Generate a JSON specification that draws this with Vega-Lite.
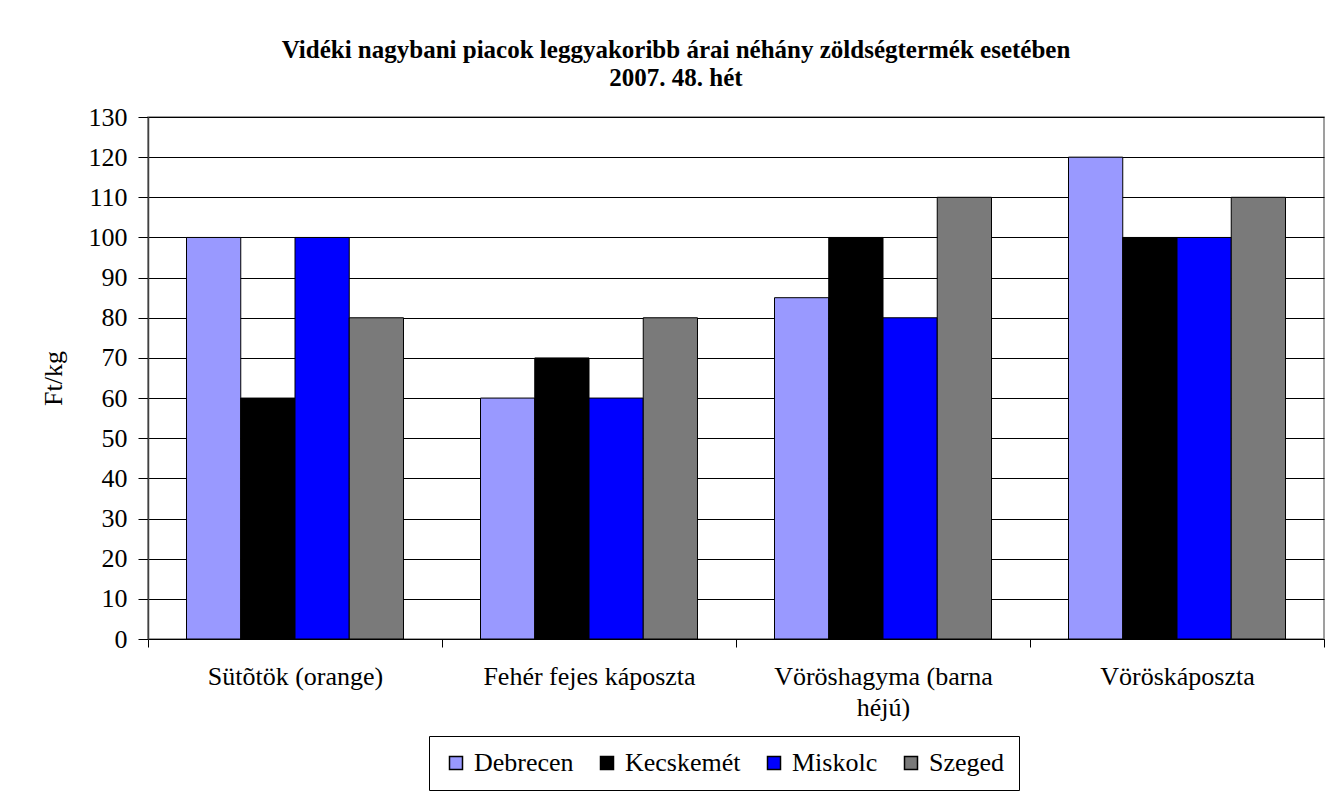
{
  "$schema": "https://vega.github.io/schema/vega-lite/v6.json",
  "width": 1176,
  "height": 522,
  "autosize": {"type": "none"},
  "padding": {"left": 148, "top": 117, "right": 11, "bottom": 166},
  "background": "white",
  "title": {
    "text": ["Vidéki nagybani piacok leggyakoribb árai néhány zöldségtermék esetében", "2007. 48. hét"],
    "font": "Liberation Serif",
    "fontSize": 25,
    "fontWeight": "bold",
    "color": "black",
    "anchor": "middle",
    "frame": "group",
    "dx": -60,
    "offset": 13,
    "lineHeight": 28
  },
  "data": {
    "values": [
      {"product": "Sütõtök (orange)", "city": "Debrecen", "price": 100},
      {"product": "Sütõtök (orange)", "city": "Kecskemét", "price": 60},
      {"product": "Sütõtök (orange)", "city": "Miskolc", "price": 100},
      {"product": "Sütõtök (orange)", "city": "Szeged", "price": 80},
      {"product": "Fehér fejes káposzta", "city": "Debrecen", "price": 60},
      {"product": "Fehér fejes káposzta", "city": "Kecskemét", "price": 70},
      {"product": "Fehér fejes káposzta", "city": "Miskolc", "price": 60},
      {"product": "Fehér fejes káposzta", "city": "Szeged", "price": 80},
      {"product": "Vöröshagyma (barna héjú)", "city": "Debrecen", "price": 85},
      {"product": "Vöröshagyma (barna héjú)", "city": "Kecskemét", "price": 100},
      {"product": "Vöröshagyma (barna héjú)", "city": "Miskolc", "price": 80},
      {"product": "Vöröshagyma (barna héjú)", "city": "Szeged", "price": 110},
      {"product": "Vöröskáposzta", "city": "Debrecen", "price": 120},
      {"product": "Vöröskáposzta", "city": "Kecskemét", "price": 100},
      {"product": "Vöröskáposzta", "city": "Miskolc", "price": 100},
      {"product": "Vöröskáposzta", "city": "Szeged", "price": 110}
    ]
  },
  "mark": {"type": "bar", "stroke": "black", "strokeWidth": 1},
  "encoding": {
    "x": {
      "field": "product",
      "type": "nominal",
      "sort": null,
      "scale": {"paddingInner": 0, "paddingOuter": 0},
      "axis": {
        "title": null,
        "labelAngle": 0,
        "labelFont": "Liberation Serif",
        "labelFontSize": 26,
        "labelColor": "black",
        "labelLimit": 400,
        "labelOverlap": false,
        "labelPadding": 16,
        "labelBaseline": "top",
        "labelLineHeight": 31,
        "labelExpr": "datum.label == 'Vöröshagyma (barna héjú)' ? ['Vöröshagyma (barna', 'héjú)'] : datum.label",
        "tickBand": "extent",
        "tickSize": 8,
        "tickColor": "black",
        "domainColor": "black",
        "grid": false
      }
    },
    "xOffset": {
      "field": "city",
      "type": "nominal",
      "sort": ["Debrecen", "Kecskemét", "Miskolc", "Szeged"],
      "scale": {"paddingInner": 0, "paddingOuter": 0.71}
    },
    "y": {
      "field": "price",
      "type": "quantitative",
      "scale": {"domain": [0, 130], "nice": false},
      "axis": {
        "title": "Ft/kg",
        "titleFont": "Liberation Serif",
        "titleFontSize": 26,
        "titleFontWeight": "normal",
        "titleColor": "black",
        "titlePadding": 22,
        "values": [0, 10, 20, 30, 40, 50, 60, 70, 80, 90, 100, 110, 120, 130],
        "labelFont": "Liberation Serif",
        "labelFontSize": 26,
        "labelColor": "black",
        "labelPadding": 11,
        "tickSize": 10,
        "tickColor": "black",
        "domainColor": "#404040",
        "domainWidth": 1.5,
        "grid": true,
        "gridColor": "black",
        "gridOpacity": 1,
        "gridWidth": 1
      }
    },
    "color": {
      "field": "city",
      "type": "nominal",
      "scale": {
        "domain": ["Debrecen", "Kecskemét", "Miskolc", "Szeged"],
        "range": ["#9999FF", "#000000", "#0000FF", "#7a7a7a"]
      },
      "legend": {
        "orient": "none",
        "legendX": 281,
        "legendY": 619,
        "direction": "horizontal",
        "title": null,
        "symbolType": "square",
        "symbolSize": 169,
        "symbolStrokeColor": "black",
        "symbolStrokeWidth": 1.5,
        "symbolOpacity": 1,
        "labelFont": "Liberation Serif",
        "labelFontSize": 26,
        "labelColor": "black",
        "labelOffset": 5,
        "columnPadding": 20,
        "strokeColor": "black",
        "fillColor": "white",
        "padding": 14
      }
    }
  },
  "config": {"view": {"stroke": "#808080", "strokeWidth": 1.5}}
}
